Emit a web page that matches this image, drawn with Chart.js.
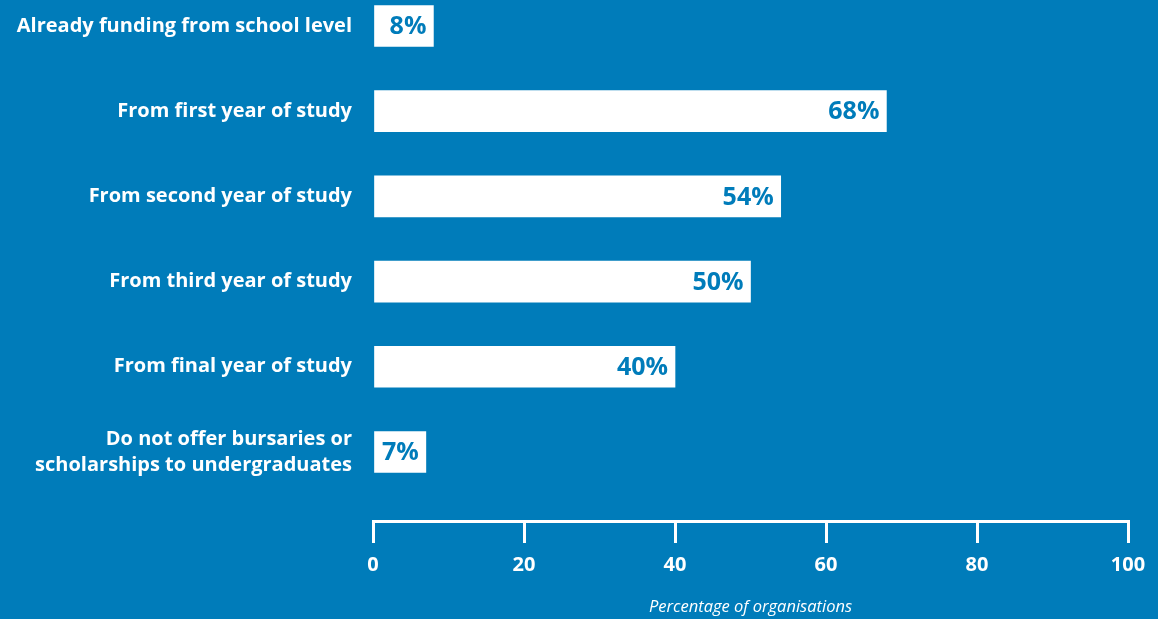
<!DOCTYPE html>
<html>
<head>
<meta charset="utf-8">
<script src="https://cdn.jsdelivr.net/npm/chart.js@4/dist/chart.umd.min.js"></script>
<style>
  html, body { margin: 0; padding: 0; background: #007cba; }
  #wrap { width: 1158px; height: 619px; }
</style>
</head>
<body>
<div id="wrap"><canvas id="fundingChart"></canvas></div>
<script>
// ===== DATA =====
const categories = [
  'Already funding from school level',
  'From first year of study',
  'From second year of study',
  'From third year of study',
  'From final year of study',
  ['Do not offer bursaries or', 'scholarships to undergraduates']
];
const percentages = [8, 68, 54, 50, 40, 7];
const xTicks = [0, 20, 40, 60, 80, 100];

const BLUE = '#007cba';
const FONT = "'Open Sans', 'Noto Sans', sans-serif";

// value labels sit inside the right end of each bar
const barValueLabels = {
  id: 'barValueLabels',
  afterDatasetsDraw(chart) {
    const ctx = chart.ctx;
    const meta = chart.getDatasetMeta(0);
    ctx.save();
    ctx.fillStyle = BLUE;
    ctx.font = `700 25px ${FONT}`;
    ctx.textAlign = 'right';
    ctx.textBaseline = 'middle';
    meta.data.forEach((bar, i) => {
      ctx.fillText(percentages[i] + '%', bar.x - 7, bar.y + 1);
    });
    ctx.restore();
  }
};

const ctx = document.getElementById('fundingChart');
new Chart(ctx, {
  type: 'bar',
  data: {
    datasets: [{
      data: percentages.map((v, i) => ({ x: v, y: i })),
      backgroundColor: '#ffffff',
      borderWidth: 0,
      barThickness: 41
    }]
  },
  options: {
    indexAxis: 'y',
    responsive: true,
    maintainAspectRatio: false,
    animation: false,
    layout: { padding: { top: 0, right: 30, bottom: 0, left: 0 } },
    plugins: {
      legend: { display: false },
      tooltip: { enabled: false }
    },
    scales: {
      y: {
        type: 'linear',
        reverse: true,
        offset: false,
        min: -0.305,
        max: 5.81,
        afterFit: s => {
          s.width = 373;
          s.paddingTop = 0;
          s.paddingBottom = 0;
        },
        afterBuildTicks: s => { s.ticks = categories.map((c, i) => ({ value: i })); },
        grid: { display: false },
        border: { display: false },
        ticks: {
          color: '#ffffff',
          padding: 13,
          font: { family: FONT, size: 20, weight: '700', lineHeight: 1.3 },
          callback: v => categories[v]
        }
      },
      x: {
        type: 'linear',
        position: 'bottom',
        min: 0,
        max: 100,
        afterFit: s => { s.height = 98; },
        afterBuildTicks: s => { s.ticks = xTicks.map(v => ({ value: v })); },
        border: { display: true, color: '#ffffff', width: 3 },
        grid: {
          drawOnChartArea: false,
          color: '#ffffff',
          lineWidth: 3,
          tickLength: 22
        },
        ticks: {
          color: '#ffffff',
          padding: 10,
          font: { family: FONT, size: 20, weight: '700' }
        },
        title: {
          display: true,
          text: 'Percentage of organisations',
          color: '#ffffff',
          font: { family: FONT, size: 16.5, style: 'italic' },
          padding: { top: 12, bottom: 2 }
        }
      }
    }
  },
  plugins: [barValueLabels]
});
</script>
</body>
</html>
